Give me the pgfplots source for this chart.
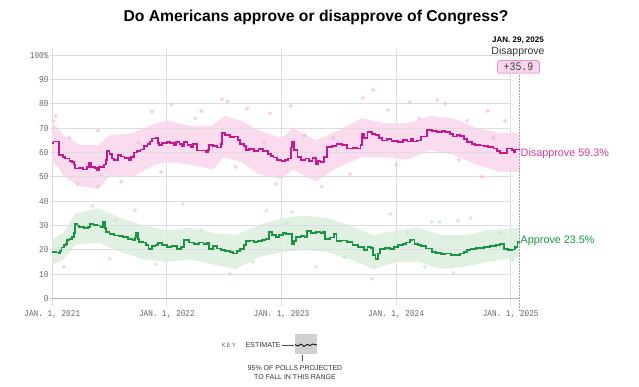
\documentclass[border=0pt]{standalone}
\usepackage{pgfplots}
\pgfplotsset{compat=1.18}
\usepgfplotslibrary{fillbetween}
\usepackage{fontspec}
\setmainfont{Liberation Sans}
\newfontfamily\monofont{Liberation Mono}
\newfontfamily\tickfont[FakeStretch=0.86]{Liberation Mono}
\definecolor{mag}{HTML}{C8168E}
\definecolor{maglab}{HTML}{D43A9E}
\definecolor{pinkband}{HTML}{F9D6EB}
\definecolor{pinkdot}{HTML}{F2B6DA}
\definecolor{grn}{HTML}{17963F}
\definecolor{grnband}{HTML}{DAEFDE}
\definecolor{grndot}{HTML}{BFE3C8}
\definecolor{gridc}{HTML}{DDDDDD}
\definecolor{tickc}{HTML}{666666}
\begin{document}
\begin{tikzpicture}[x=1pt,y=1pt]
\begin{axis}[
  at={(0,0)}, anchor=south west,
  scale only axis, width=469.5pt, height=257.5pt,
  xmin=2020.98, xmax=2025.077, ymin=-2.9, ymax=102.9,
  axis line style={draw=none},
  tick style={draw=none},
  xtick={2021,2022,2023,2024,2025},
  xticklabels={{JAN. 1, 2021},{JAN. 1, 2022},{JAN. 1, 2023},{JAN. 1, 2024},{JAN. 1, 2025}},
  xmajorgrids, major grid style={gridc, line width=0.8pt},
  ytick={0,10,...,100},
  yticklabels={0,10,20,30,40,50,60,70,80,90,100\%},
  ticklabel style={font=\tickfont\fontsize{9}{10}\selectfont, text=tickc},
  /pgf/number format/assume math mode=true,
  xticklabel style={yshift=-1pt},
  yticklabel style={xshift=2pt},
  clip=false,
]
% horizontal grid
\pgfplotsinvokeforeach{10,20,...,100}{
  \draw[gridc, line width=0.8pt] (axis cs:2020.98,#1) -- (axis cs:2025,#1);
}
\draw[gray!55, line width=1.4pt] (axis cs:2020.98,0) -- (axis cs:2025.077,0);

% Disapprove band
\addplot[name path=pu, draw=none] coordinates {
(2021.0,72)(2021.05,70)(2021.1,67)(2021.25,63)(2021.4,63)(2021.5,67)(2021.7,68)(2021.9,72)(2022.0,73)(2022.2,71)(2022.4,71)(2022.5,75)(2022.65,73)(2022.8,69)(2023.0,66)(2023.1,70)(2023.3,65)(2023.5,69)(2023.7,74)(2023.9,72)(2024.1,72)(2024.3,75)(2024.5,74)(2024.7,70)(2024.9,68)(2025.077,68)};
\addplot[name path=pl, draw=none] coordinates {
(2021.0,56)(2021.05,54)(2021.1,50)(2021.25,46)(2021.4,45)(2021.5,50)(2021.7,50)(2021.9,55)(2022.0,56)(2022.2,55)(2022.4,53)(2022.5,58)(2022.65,56)(2022.8,51)(2023.0,49)(2023.1,53)(2023.3,48)(2023.5,54)(2023.7,58)(2023.9,58)(2024.1,57)(2024.3,61)(2024.5,59)(2024.7,55)(2024.9,52)(2025.077,52)};
\addplot[pinkband, fill opacity=0.85] fill between[of=pu and pl];

% Approve band
\addplot[name path=gu, draw=none] coordinates {
(2021.0,24)(2021.1,27)(2021.2,35)(2021.4,37)(2021.6,33)(2021.8,30)(2022.0,28)(2022.2,29)(2022.4,27)(2022.6,26)(2022.8,30)(2023.0,33)(2023.2,34)(2023.4,33)(2023.6,30)(2023.8,26)(2024.0,28)(2024.2,29)(2024.4,26)(2024.6,26)(2024.8,28)(2025.077,29)};
\addplot[name path=gl, draw=none] coordinates {
(2021.0,14)(2021.1,16)(2021.2,22)(2021.4,23)(2021.6,19)(2021.8,16)(2022.0,15)(2022.2,16)(2022.4,14)(2022.6,12)(2022.8,17)(2023.0,19)(2023.2,20)(2023.4,19)(2023.6,16)(2023.8,12)(2024.0,15)(2024.2,15)(2024.4,12)(2024.6,13)(2024.8,15)(2025.077,17)};
\addplot[grnband, fill opacity=0.85] fill between[of=gu and gl];

% poll dots
\addplot[only marks, mark=*, mark size=1.8pt, color=pinkdot, opacity=0.6] coordinates {
(2021.01,73)(2021.03,75)(2021.22,47)(2021.40,46)(2021.40,69)(2021.87,76.7)(2022.04,79.8)(2022.30,77)(2022.48,81.8)(2022.53,81)(2022.70,78)(2022.90,76)(2023.08,79)(2023.71,82.3)(2023.80,85.6)(2023.93,77.4)(2024.12,80.7)(2024.36,81.5)(2024.43,80)(2024.62,73)(2024.80,77)(2024.95,73)(2022.95,47)(2023.35,46)(2024.75,50)(2021.15,66)(2021.60,48)(2021.95,52)(2022.25,74)(2022.60,54)(2023.20,67)(2023.60,51)(2024.00,55)(2024.20,74)(2024.55,57)(2024.85,66)(2021.75,64)(2022.85,64)(2023.45,66)};
\addplot[only marks, mark=*, mark size=1.8pt, color=grndot, opacity=0.6] coordinates {
(2021.72,36.2)(2022.14,39)(2022.87,36)(2023.09,35.5)(2023.79,8.2)(2023.95,34.8)(2024.31,31.4)(2024.38,31.5)(2024.54,32)(2024.65,33)(2021.35,38)(2022.55,10)(2024.50,10.5)(2021.50,16.4)(2023.30,13)(2021.10,13)(2021.55,32)(2021.90,14)(2022.30,28)(2022.75,15)(2023.05,31)(2023.55,17)(2024.10,27)(2024.25,13)(2024.90,27)(2025.02,16)};

% Disapprove estimate
\addplot[mag, line width=1.8pt, const plot] coordinates {
(2021.0,64)(2021.01,64.5)(2021.055,64.5)(2021.06,59)(2021.07,58.8)(2021.09,58)(2021.11,57.5)(2021.13,57.5)(2021.15,56.6)(2021.17,56)(2021.19,55)(2021.20,53.4)(2021.23,53.6)(2021.27,53)(2021.30,54)(2021.32,55.6)(2021.34,54)(2021.37,53.6)(2021.39,52.9)(2021.41,54)(2021.45,55)(2021.47,57)(2021.48,60.6)(2021.50,59.5)(2021.52,57.5)(2021.54,57)(2021.57,58.8)(2021.60,58.3)(2021.63,57.6)(2021.67,57)(2021.69,58)(2021.71,60)(2021.74,60.5)(2021.77,61.2)(2021.80,62.5)(2021.83,63.5)(2021.85,64.5)(2021.87,65.7)(2021.90,66)(2021.92,64)(2021.93,63)(2021.96,64)(2022.00,64.4)(2022.03,64)(2022.06,63)(2022.08,64.4)(2022.11,63.5)(2022.13,62.5)(2022.15,64.4)(2022.18,63)(2022.21,62.1)(2022.23,63.5)(2022.26,60.8)(2022.30,60.8)(2022.34,60.1)(2022.36,61)(2022.37,63)(2022.40,62.5)(2022.44,62)(2022.47,63.5)(2022.48,68)(2022.51,67)(2022.55,66.3)(2022.59,66.5)(2022.62,65)(2022.64,63.5)(2022.67,62.5)(2022.69,61)(2022.72,61.5)(2022.76,60.5)(2022.80,61.5)(2022.84,60.5)(2022.88,59.3)(2022.91,58.5)(2022.93,57.9)(2022.96,57)(2023.00,56.6)(2023.03,57)(2023.06,57.5)(2023.08,62)(2023.09,64.4)(2023.11,61)(2023.14,58)(2023.17,57)(2023.21,57.5)(2023.24,56.6)(2023.27,57.6)(2023.30,55)(2023.32,56.5)(2023.34,56.1)(2023.37,58)(2023.40,62.3)(2023.44,62.5)(2023.48,63.5)(2023.53,63)(2023.57,61.6)(2023.62,61.8)(2023.66,61.6)(2023.69,63)(2023.70,67.8)(2023.72,66)(2023.75,68.4)(2023.79,67.5)(2023.82,67)(2023.85,66)(2023.88,64.9)(2023.92,65.5)(2023.96,64.8)(2024.02,64.4)(2024.06,65)(2024.10,64.5)(2024.13,65.7)(2024.15,64.5)(2024.18,64.9)(2024.22,66.5)(2024.27,69.1)(2024.31,68.7)(2024.36,68.4)(2024.40,68.9)(2024.43,68.4)(2024.47,67.5)(2024.50,66.5)(2024.53,67)(2024.56,66.8)(2024.59,65.5)(2024.62,64.4)(2024.66,63.5)(2024.69,63)(2024.73,62.8)(2024.77,62.5)(2024.80,62.3)(2024.85,61.6)(2024.88,60.5)(2024.91,59.8)(2024.95,59.8)(2024.97,61.6)(2025.01,61)(2025.03,60)(2025.04,61.2)(2025.06,61.2)(2025.077,60)};

% Approve estimate
\addplot[grn, line width=1.8pt, const plot] coordinates {
(2021.0,19)(2021.03,18.9)(2021.055,18.5)(2021.07,19.5)(2021.08,20.9)(2021.10,21.8)(2021.12,22.5)(2021.13,23.9)(2021.15,24.5)(2021.17,25.3)(2021.19,27)(2021.20,30.7)(2021.22,30)(2021.23,29.3)(2021.26,29.5)(2021.28,28.9)(2021.31,29.5)(2021.33,30.7)(2021.36,30.2)(2021.39,30)(2021.42,29.5)(2021.44,31.4)(2021.46,29)(2021.47,27.3)(2021.50,26.5)(2021.54,25.9)(2021.58,25.6)(2021.62,25.2)(2021.66,24.5)(2021.70,23.9)(2021.72,25)(2021.73,26.9)(2021.75,24.5)(2021.76,23.2)(2021.79,23)(2021.82,22)(2021.84,20.4)(2021.87,21.5)(2021.90,22)(2021.92,22.7)(2021.96,22)(2022.00,21.1)(2022.04,21.5)(2022.09,20.4)(2022.12,21)(2022.15,23.9)(2022.19,23)(2022.24,22.5)(2022.28,23)(2022.32,22.5)(2022.35,22.8)(2022.37,20.4)(2022.40,21.5)(2022.44,20.5)(2022.47,19.8)(2022.51,19.5)(2022.55,19)(2022.58,18.5)(2022.61,19.5)(2022.64,20.4)(2022.67,22)(2022.69,23.5)(2022.73,23.8)(2022.76,23.2)(2022.79,23.5)(2022.83,24)(2022.86,24.5)(2022.89,27.3)(2022.92,26)(2022.95,25.2)(2022.98,26)(2023.01,26.9)(2023.04,26.5)(2023.07,26.6)(2023.09,22.5)(2023.11,23.5)(2023.13,25.2)(2023.17,25.5)(2023.20,25.2)(2023.22,27.6)(2023.26,27)(2023.30,27.2)(2023.34,26.9)(2023.36,27.3)(2023.38,24.5)(2023.42,25)(2023.46,26.5)(2023.48,23.5)(2023.52,23.8)(2023.57,23.2)(2023.62,22)(2023.67,21)(2023.72,19.8)(2023.75,21)(2023.78,20.8)(2023.80,18)(2023.82,16.3)(2023.84,18.5)(2023.86,20.4)(2023.90,20.8)(2023.95,20.4)(2023.98,21)(2024.02,21.8)(2024.06,22.5)(2024.09,23)(2024.12,23.9)(2024.14,24.2)(2024.16,22.5)(2024.19,22)(2024.22,21.4)(2024.26,20.5)(2024.31,19.1)(2024.35,18.8)(2024.39,18.4)(2024.43,18.5)(2024.48,18)(2024.53,17.8)(2024.56,18.5)(2024.59,19.1)(2024.62,19.8)(2024.65,20.4)(2024.70,20.8)(2024.77,21.1)(2024.82,21.5)(2024.87,22)(2024.91,22.5)(2024.94,20.4)(2024.98,20)(2025.01,20.1)(2025.04,21)(2025.06,23.2)(2025.077,23.5)};

% end markers
\draw[gray!70, densely dotted, line width=0.5pt] (axis cs:2025.077,-5) -- (axis cs:2025.077,92);
\node[anchor=west, font=\fontsize{10.8}{12}\selectfont, text=maglab, inner sep=1pt] at (axis cs:2025.077,59.3) {Disapprove 59.3\%};
\node[anchor=west, font=\fontsize{10.8}{12}\selectfont, text=grn, inner sep=1pt] at (axis cs:2025.077,23.5) {Approve 23.5\%};
\end{axis}
% top annotation (1pt = 1px; x = px-50, y = 305.5-py)
\node[font=\bfseries\fontsize{8}{9}\selectfont] at (468,265.5) {JAN. 29, 2025};
\node[font=\fontsize{10.5}{12}\selectfont, text=black!80] at (468,253.3) {Disapprove};
\node[draw=maglab!80, fill=pinkband, rounded corners=2pt, line width=0.5pt, minimum width=42pt, minimum height=12.5pt, inner sep=0pt, font=\tickfont\fontsize{11.5}{12}\selectfont, text=black!75] at (468.5,238.5) {+35.9};
% title
\node[font=\bfseries\fontsize{15.7}{17}\selectfont] at (266,288.5) {Do Americans approve or disapprove of Congress?};
% key
\node[anchor=west, font=\fontsize{6.2}{7}\selectfont, text=black!60] at (168,-39.5) {K\,E\,Y};
\node[anchor=west, font=\fontsize{7.1}{8}\selectfont, text=black!80, inner sep=0pt] at (195.5,-39.5) {ESTIMATE};
\draw[black!70, line width=0.4pt] (231.5,-39.5) -- (244,-39.5);
\fill[black!18] (245,-48) rectangle (267,-28);
\draw[black, line width=0.8pt] (245,-39) -- (248,-40.5) -- (251,-38.5) -- (254,-41) -- (257,-39) -- (260,-40) -- (263,-38.5) -- (267,-39.5);
\draw[black!70, line width=0.4pt] (252,-49) -- (252,-55);
\node[font=\fontsize{7}{8}\selectfont, text=black!80, align=center, inner sep=0pt] at (245,-66.8) {95\% OF POLLS PROJECTED\\[1.2pt]TO FALL IN THIS RANGE};
\path (-50,-80.5) rectangle (589,305.5);
\end{tikzpicture}
\end{document}
